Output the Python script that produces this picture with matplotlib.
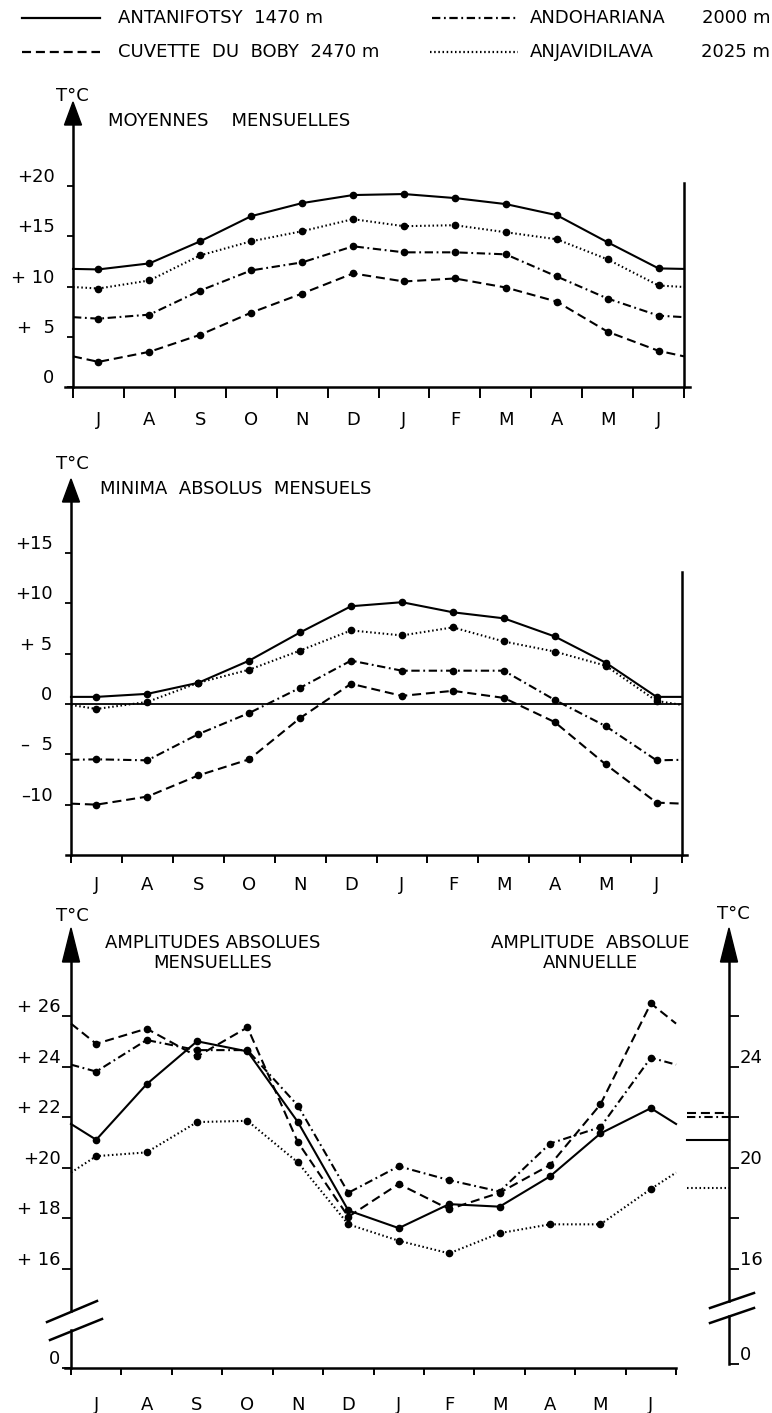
import matplotlib
matplotlib.use("Agg")
import matplotlib.pyplot as plt
from matplotlib.lines import Line2D
from matplotlib.patches import Polygon

plt.rcParams.update({
    "font.family": ["DejaVu Sans"],
    "font.size": 13,
    "lines.scale_dashes": False,
    "axes.linewidth": 1.8,
})

# ------------------------------------------------------------------ data
MONTHS = ["J", "A", "S", "O", "N", "D", "J", "F", "M", "A", "M", "J"]
STATIONS = ["ANTANIFOTSY  1470 m", "ANDOHARIANA", "CUVETTE  DU  BOBY  2470 m", "ANJAVIDILAVA"]
ALTITUDES = ["", "2000 m", "", "2025 m"]

# moyennes mensuelles (°C)
MOY_ANTANIFOTSY = [11.7, 12.3, 14.5, 17.0, 18.3, 19.1, 19.2, 18.8, 18.2, 17.1, 14.4, 11.8]
MOY_ANDOHARIANA = [6.8, 7.2, 9.6, 11.6, 12.4, 14.0, 13.4, 13.4, 13.2, 11.0, 8.8, 7.1]
MOY_BOBY        = [2.5, 3.5, 5.2, 7.4, 9.3, 11.3, 10.5, 10.8, 9.9, 8.5, 5.5, 3.6]
MOY_ANJAVIDILAVA = [9.8, 10.6, 13.1, 14.5, 15.5, 16.7, 16.0, 16.1, 15.4, 14.7, 12.7, 10.1]

# minima absolus mensuels (°C)
MIN_ANTANIFOTSY = [0.7, 1.0, 2.1, 4.3, 7.1, 9.7, 10.1, 9.1, 8.5, 6.7, 4.1, 0.7]
MIN_ANDOHARIANA = [-5.5, -5.6, -3.0, -0.9, 1.6, 4.3, 3.3, 3.3, 3.3, 0.4, -2.2, -5.6]
MIN_BOBY        = [-10.0, -9.2, -7.1, -5.5, -1.4, 2.0, 0.8, 1.3, 0.6, -1.8, -6.0, -9.8]
MIN_ANJAVIDILAVA = [-0.5, 0.2, 2.1, 3.4, 5.3, 7.3, 6.8, 7.6, 6.2, 5.2, 3.8, 0.3]

# amplitudes absolues mensuelles (°C)
AMP_ANTANIFOTSY = [21.1, 23.3, 25.0, 24.6, 21.8, 18.3, 17.6, 18.55, 18.45, 19.65, 21.35, 22.35]
AMP_ANDOHARIANA = [23.8, 25.05, 24.65, 24.65, 22.45, 19.0, 20.05, 19.5, 19.05, 20.95, 21.6, 24.35]
AMP_BOBY        = [24.9, 25.5, 24.4, 25.55, 21.0, 18.05, 19.35, 18.35, 19.0, 20.1, 22.5, 26.5]
AMP_ANJAVIDILAVA = [20.45, 20.6, 21.8, 21.85, 20.2, 17.75, 17.1, 16.6, 17.4, 17.75, 17.75, 19.15]

# amplitude absolue annuelle (°C)
AMP_ANNUELLE = [21.1, 22.0, 22.15, 19.2]

LINESTYLES = ["-", (0, (6, 2.6, 1.3, 2.6)), (0, (6.5, 3.5)), (0, (1.1, 1.9))]

# ------------------------------------------------------------------ helpers
W, H = 772, 1413
fig = plt.figure(figsize=(W / 100, H / 100), dpi=100)


def fx(x):
    return x / W


def fy(y):
    return 1 - y / H


def box(l, t, r, b):
    return [fx(l), fy(b), (r - l) / W, (b - t) / H]


def fig_line(x0, y0, x1, y1, ls="-", lw=1.8):
    fig.add_artist(Line2D([fx(x0), fx(x1)], [fy(y0), fy(y1)], transform=fig.transFigure,
                          color="black", lw=lw, ls=ls))


def arrow(x, tip, base, half=8.5):
    fig.patches.append(Polygon([(fx(x - half), fy(base)), (fx(x + half), fy(base)), (fx(x), fy(tip))],
                               closed=True, transform=fig.transFigure, color="black"))


def draw_series(ax, vals, ls):
    edge = (vals[0] + vals[-1]) / 2
    x = [0] + [i + 0.5 for i in range(12)] + [12]
    y = [edge] + list(vals) + [edge]
    ax.plot(x, y, color="black", lw=1.5, ls=ls, marker="o", ms=4.5,
            markevery=list(range(1, 13)), clip_on=False)


def setup_axes(ax, ylim, yticks, ylabels, xtick_len, lab_pad, ytick_len=4.3, ypad=9):
    ax.set_xlim(0, 12)
    ax.set_ylim(*ylim)
    ax.spines["top"].set_visible(False)
    ax.set_xticks(range(13))
    ax.set_xticklabels([])
    ax.set_xticks([i + 0.5 for i in range(12)], minor=True)
    ax.set_xticklabels(MONTHS, minor=True)
    ax.tick_params(axis="x", which="major", direction="out", length=xtick_len, width=1.4)
    ax.tick_params(axis="x", which="minor", length=0, pad=lab_pad, labelsize=13)
    ax.set_yticks(yticks)
    ax.set_yticklabels(ylabels)
    ax.tick_params(axis="y", direction="out", length=ytick_len, width=1.3, pad=ypad, labelsize=13)
    for t in ax.get_yticklabels():
        t.set_va("bottom")


# ------------------------------------------------------------------ legend
for i, (name, alt, ls) in enumerate(zip(STATIONS, ALTITUDES, LINESTYLES)):
    row = [0, 0, 1, 1][i]
    col = [0, 1, 0, 1][i]
    y = 18 + 34 * row
    if col == 0:
        fig_line(22, y, 100, y, ls=ls, lw=1.6)
        fig.text(fx(118), fy(y), name, ha="left", va="center")
    else:
        fig_line(432 if i == 1 else 430, y, 518, y, ls=ls, lw=1.6)
        fig.text(fx(530), fy(y), name, ha="left", va="center")
        fig.text(fx(770), fy(y), alt, ha="right", va="center")

# ------------------------------------------------------------------ panel 1
ax1 = fig.add_axes(box(73, 125, 684, 387))
setup_axes(ax1, (0, 26.07), [0, 5, 10, 15, 20], ["0", "+  5", "+ 10", "+15", "+20"],
           xtick_len=7.9, lab_pad=17)
ax1.spines["right"].set_bounds(0, 20.3)
ax1.spines["bottom"].set_bounds(-0.15, 12.12)
for vals, ls in zip([MOY_ANTANIFOTSY, MOY_ANDOHARIANA, MOY_BOBY, MOY_ANJAVIDILAVA], LINESTYLES):
    draw_series(ax1, vals, ls)
arrow(73, 102, 125)
fig.text(fx(72), fy(96), "T°C", ha="center", va="center")
fig.text(fx(108), fy(121), "MOYENNES    MENSUELLES", ha="left", va="center")

# ------------------------------------------------------------------ panel 2
ax2 = fig.add_axes(box(71, 502, 682, 855))
setup_axes(ax2, (-15, 20.05), [-10, -5, 0, 5, 10, 15], ["–10", "–  5", "0", "+ 5", "+10", "+15"],
           xtick_len=5.8, lab_pad=15)
ax2.spines["right"].set_bounds(-15, 13.1)
ax2.spines["bottom"].set_bounds(-0.1, 12.1)
ax2.axhline(0, color="black", lw=1.3)
for vals, ls in zip([MIN_ANTANIFOTSY, MIN_ANDOHARIANA, MIN_BOBY, MIN_ANJAVIDILAVA], LINESTYLES):
    draw_series(ax2, vals, ls)
arrow(71, 479, 502)
fig.text(fx(72), fy(464), "T°C", ha="center", va="center")
fig.text(fx(100), fy(489), "MINIMA  ABSOLUS  MENSUELS", ha="left", va="center")

# ------------------------------------------------------------------ panel 3 (axe coupé)
Y_BOT = 12.06      # position du "0" sous la coupure
Y_TOP = 28.14
ax3 = fig.add_axes(box(71, 962, 729, 1368))
setup_axes(ax3, (Y_BOT, Y_TOP), [Y_BOT, 16, 18, 20, 22, 24, 26],
           ["0", "+ 16", "+ 18", "+20", "+ 22", "+ 24", "+ 26"],
           xtick_len=5, lab_pad=20.5, ytick_len=6.5, ypad=1)
ax3.set_xlim(0, 13.05)
ax3.spines["right"].set_visible(False)
ax3.spines["bottom"].set_bounds(-0.12, 12)
ax3.spines["left"].set_bounds(14.32, Y_TOP)
ax3.plot([0, 0], [Y_BOT, 13.56], color="black", lw=1.8, clip_on=False)
for vals, ls in zip([AMP_ANTANIFOTSY, AMP_ANDOHARIANA, AMP_BOBY, AMP_ANJAVIDILAVA], LINESTYLES):
    draw_series(ax3, vals, ls)
for val, ls in zip(AMP_ANNUELLE, LINESTYLES):
    ax3.plot([12.22, 13.05], [val, val], color="black", lw=1.5, ls=ls, clip_on=False)

ax3r = ax3.twinx()
ax3r.set_ylim(Y_BOT, Y_TOP)
for s in ["top", "left", "bottom"]:
    ax3r.spines[s].set_visible(False)
ax3r.spines["right"].set_bounds(14.71, Y_TOP)
ax3r.plot([13.05, 13.05], [Y_BOT + 0.15, 14.12], color="black", lw=1.8, clip_on=False)
ax3r.set_xlim(0, 13.05)
ax3r.set_yticks([Y_BOT + 0.15, 16, 18, 20, 22, 24, 26])
ax3r.set_yticklabels(["0", "16", "", "20", "", "24", ""])
ax3r.tick_params(axis="y", direction="out", length=7, width=1.3, pad=1, labelsize=13)
for t in ax3r.get_yticklabels():
    t.set_va("bottom")

# coupures
fig_line(47, 1322, 97, 1301)
fig_line(50, 1340, 102, 1319)
fig_line(710, 1308, 754, 1293)
fig_line(710, 1323, 754, 1308)

arrow(71, 928, 962)
arrow(729, 928, 962)
fig.text(fx(72), fy(916), "T°C", ha="center", va="center")
fig.text(fx(733), fy(914), "T°C", ha="center", va="center")
fig.text(fx(213), fy(953), "AMPLITUDES ABSOLUES\nMENSUELLES", ha="center", va="center",
         multialignment="center", linespacing=1.15)
fig.text(fx(590), fy(953), "AMPLITUDE  ABSOLUE\nANNUELLE", ha="center", va="center",
         multialignment="center", linespacing=1.15)

fig.savefig("out.png", dpi=100)
